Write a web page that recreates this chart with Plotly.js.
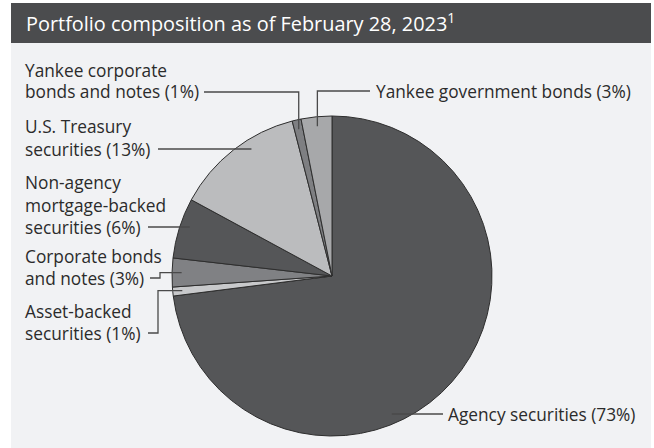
<!DOCTYPE html>
<html>
<head>
<meta charset="utf-8">
<script src="https://cdn.plot.ly/plotly-3.0.1.min.js"></script>
<style>html,body{margin:0;padding:0;background:#fff;}#chart{width:654px;height:448px;}</style>
</head>
<body>
<div id="chart"></div>
<script>
// ---- data ----
const categories = ['Agency securities','Asset-backed securities','Corporate bonds and notes','Non-agency mortgage-backed securities','U.S. Treasury securities','Yankee corporate bonds and notes','Yankee government bonds'];
const values = [73.0, 0.9, 2.9, 6.1, 13.1, 0.9, 3.1];
const labelLines = [
  ['Agency securities (73%)'],
  ['Asset-backed','securities (1%)'],
  ['Corporate bonds','and notes (3%)'],
  ['Non-agency','mortgage-backed','securities (6%)'],
  ['U.S. Treasury','securities (13%)'],
  ['Yankee corporate','bonds and notes (1%)'],
  ['Yankee government bonds (3%)']
];
const colors = ['#555658','#c8c9cb','#808184','#555658','#bbbcbe','#7e7f82','#a7a8aa'];

// ---- layout helpers (pixel placement) ----
const W = 654, H = 448, CX = 332, CY = 276, R = 160;
const px = x => x / W, py = y => 1 - y / H;
const FONT = '"Open Sans", "Noto Sans", sans-serif';
const LINEGAP = 22;
// label placement and leader routing per slice
const place = [
  {tx:446, ty:414, lx:443, route:'h', frac:0.5},
  {tx:23, ty:333, lx:148, route:'hvh', ex:158, frac:0.5},
  {tx:23, ty:278, lx:150, route:'hvh', ex:160, frac:0.5},
  {tx:23, ty:227, lx:148, route:'h', frac:0.5},
  {tx:23, ty:149, lx:158, route:'h', frac:0.5},
  {tx:23, ty:92, lx:204, route:'hv', frac:0.5},
  {tx:374, ty:91, lx:370, route:'hv', frac:0.5}
];

const total = values.reduce((a,b)=>a+b,0);
let cum = 0;
const shapes = [
  {type:'rect', xref:'paper', yref:'paper', x0:px(11), x1:px(651), y0:0, y1:py(43), fillcolor:'#f1f2f4', line:{width:0}, layer:'below'},
  {type:'rect', xref:'paper', yref:'paper', x0:px(11), x1:px(651), y0:py(43), y1:py(3), fillcolor:'#4b4c4e', line:{width:0}, layer:'below'}
];
const annotations = [];
const rA = 0.94 * R;
values.forEach((v,i) => {
  const a0 = cum / total * 360; cum += v; const a1 = cum / total * 360;
  const p = place[i];
  const am = (a0 + p.frac * (a1 - a0)) * Math.PI / 180;
  const ax = CX + rA * Math.sin(am), ay = CY - rA * Math.cos(am);
  let path;
  if (p.route === 'h') {
    const dy = p.ty - CY;
    const ex = CX + Math.sign(Math.sin(am)) * Math.sqrt(Math.max(rA*rA - dy*dy, 0));
    path = [[p.lx, p.ty],[ex, p.ty]];
  } else if (p.route === 'hv') {
    path = [[p.lx, p.ty],[ax, p.ty],[ax, ay]];
  } else {
    path = [[p.lx, p.ty],[p.ex, p.ty],[p.ex, ay],[ax, ay]];
  }
  const d = path.map((q,k)=> (k? 'L ':'M ') + px(q[0]).toFixed(5) + ' ' + py(q[1]).toFixed(5)).join(' ');
  shapes.push({type:'path', xref:'paper', yref:'paper', path:d, line:{color:'#4a4a4a', width:1.3}, layer:'above'});
  const n = labelLines[i].length;
  labelLines[i].forEach((t,k) => {
    annotations.push({xref:'paper', yref:'paper', x:px(p.tx), y:py(p.ty - (n-1-k)*LINEGAP), xanchor:'left', yanchor:'middle', text:t, showarrow:false, font:{family:FONT, size:17.3, color:'#2b2b2b'}});
  });
});

const trace = {
  type:'pie', labels:categories, values:values, sort:false, direction:'clockwise', rotation:0,
  marker:{colors:colors, line:{color:'#2e2e2e', width:1}},
  textinfo:'none', hoverinfo:'label+percent', showlegend:false,
  domain:{x:[px(CX-R), px(CX+R)], y:[py(CY+R), py(CY-R)]}
};

const layout = {
  width:W, height:H, margin:{l:0,r:0,t:0,b:0}, paper_bgcolor:'#ffffff', showlegend:false,
  title:{text:'Portfolio composition as of February 28, 2023<sup>1</sup>', x:px(26), xanchor:'left', y:py(24), yanchor:'middle', font:{family:FONT, size:19.9, color:'#ffffff'}},
  shapes:shapes, annotations:annotations
};
Plotly.newPlot('chart', [trace], layout, {displayModeBar:false, staticPlot:true});
</script>
</body>
</html>
